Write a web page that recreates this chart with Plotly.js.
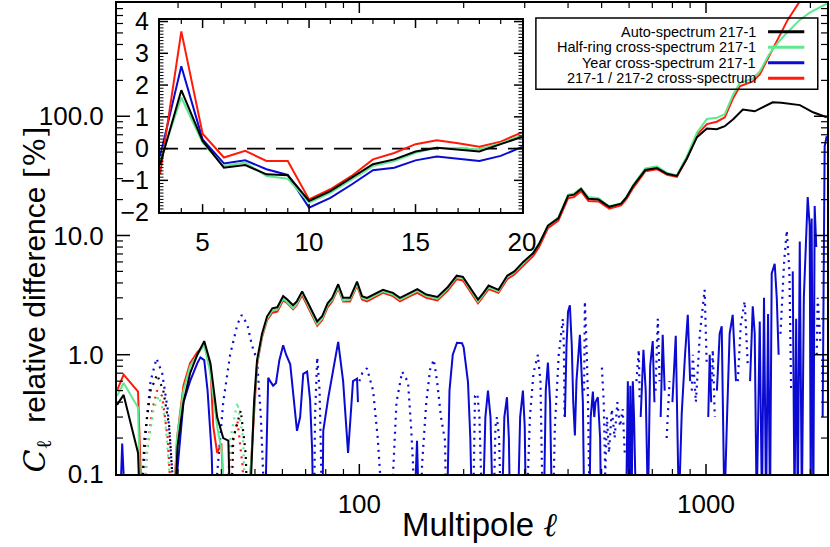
<!DOCTYPE html>
<html>
<head>
<meta charset="utf-8">
<script src="https://cdn.plot.ly/plotly-3.0.1.min.js"></script>
<style>
  body { margin: 0; background: #fff; }
  #chart { width: 830px; height: 547px; }
</style>
</head>
<body>
<div id="chart"></div>
<script>
/*===== Data =====*/
// main panel: signed relative difference [%], negative parts drawn dotted
const autoEll = [20, 20.9, 23.0, 23.3, 23.5, 24.0, 25.0, 26.1, 27.2, 28.3, 29.0, 29.3, 29.9, 31.1, 32.5, 34.1, 35.7, 37.2, 38.9, 40.5, 41.9, 42.4, 42.7, 43.3, 45.5, 47.0, 47.6, 48.3, 49.7, 50.7, 52.4, 54.2, 56.1, 58, 60.3, 62, 64.4, 66, 68.4, 71.2, 73, 75.6, 78.1, 81, 83.5, 86.9, 89.8, 94, 98.5, 101.8, 105.2, 110, 117, 125, 131, 140, 147, 156, 168, 180, 191, 199, 210, 220, 228, 236, 252, 267, 280, 297, 317, 330, 350, 375, 400, 416, 436, 458, 490, 526, 569, 590, 616, 668, 722, 772, 824, 880, 942, 1006, 1074, 1133, 1200, 1277, 1382, 1470, 1557, 1650, 1744, 1866, 2036, 2177, 2230];
const autoVal = [0.38, 0.46, 0.15, 0.05, -0.05, -0.2, -0.5, -0.68, -0.5, -0.25, -0.08, 0.05, 0.17, 0.4, 0.7, 1.0, 1.3, 0.85, 0.3, 0.2, 0.19, 0.05, -0.05, -0.2, -0.34, -0.15, -0.05, 0.05, 0.4, 0.9, 1.5, 2.1, 2.45, 2.5, 3.1, 2.9, 2.6, 2.8, 3.4, 2.7, 2.3, 1.9, 2.1, 2.7, 3.0, 3.9, 3.0, 3.0, 4.1, 3.1, 3.0, 3.2, 3.5, 3.3, 3.0, 3.3, 3.55, 3.2, 3.05, 3.7, 4.6, 4.5, 3.6, 2.9, 3.3, 3.8, 3.5, 4.6, 5.0, 6.0, 7.1, 8.5, 12.1, 13.9, 21.5, 22, 24.6, 20.3, 20, 17.4, 18.5, 21, 26, 35.4, 36.8, 32.9, 31.6, 44, 66.8, 79, 78, 82.5, 95, 114, 110, 120, 131, 130, 128, 124, 108, 100, 98];

const halfEll = [20, 20.9, 23.0, 23.4, 23.7, 24.4, 25.5, 26.4, 27.5, 28.5, 28.9, 29.2, 29.8, 31.1, 32.5, 34.1, 35.7, 37.2, 38.9, 40.2, 40.8, 41.2, 42.5, 44.5, 46.2, 47.0, 48.0, 49.7, 50.7, 52.4, 54.2, 56.1, 58, 60.3, 62, 64.4, 66, 68.4, 71.2, 73, 75.6, 78.1, 81, 83.5, 86.9, 89.8, 94, 98.5, 101.8, 105.2, 110, 117, 125, 131, 140, 147, 156, 168, 180, 191, 199, 210, 220, 228, 236, 252, 267, 280, 297, 317, 330, 350, 375, 400, 416, 436, 458, 490, 526, 569, 590, 616, 668, 722, 772, 824, 880, 942, 1006, 1074, 1133, 1195, 1251, 1364, 1429, 1520, 1610, 1710, 1864, 1991, 2229];
const halfVal = [0.45, 0.58, 0.36, 0.05, -0.05, -0.15, -0.35, -0.45, -0.3, -0.1, -0.05, 0.05, 0.2, 0.5, 0.8, 1.0, 1.2, 0.7, 0.25, 0.15, 0.05, -0.05, -0.2, -0.4, -0.2, -0.05, 0.05, 0.38, 0.85, 1.45, 2.0, 2.35, 2.4, 2.95, 2.75, 2.45, 2.65, 3.3, 2.6, 2.2, 1.8, 2.0, 2.6, 2.9, 3.7, 2.85, 2.9, 3.9, 3.0, 2.9, 3.1, 3.4, 3.2, 2.9, 3.2, 3.45, 3.1, 2.95, 3.6, 4.5, 4.4, 3.5, 2.8, 3.2, 3.7, 3.4, 4.5, 4.9, 5.9, 7.1, 8.5, 12.1, 14.2, 22, 22.5, 25, 21, 20.5, 17.6, 18.6, 21, 26.5, 36.5, 38, 33.5, 32, 46, 73, 95, 97, 104, 150, 190, 207, 237, 330, 413, 500, 643, 740, 880];

const yearEll = [20.0, 20.4, 20.7, 21.0, 21.3, 23.4, 23.8, 24.4, 25.0, 26.0, 27.0, 28.0, 28.9, 29.3, 29.6, 29.8, 31.1, 32.5, 34.1, 34.8, 35.7, 36.5, 37.5, 37.9, 38.5, 38.9, 40.5, 42.4, 44.5, 45.8, 47.5, 49.0, 50.7, 52, 52.8, 53.2, 53.5, 54.0, 54.6, 55.3, 56.4, 57.5, 58.8, 60.3, 61.5, 63.2, 65, 66.1, 67.5, 68.9, 70.7, 72.1, 73.1, 73.6, 74.1, 74.5, 75.6, 76.8, 77.5, 78.0, 78.3, 78.7, 81.3, 84.0, 86.9, 89.8, 92.8, 95.9, 98.5, 99.1, 100.0, 102, 105.2, 109.6, 113, 114.8, 115.5, 120, 125.1, 128, 132.9, 136, 138.2, 141, 142.9, 143.5, 144.2, 146.7, 148.5, 150.5, 151.7, 156, 160, 164, 167.6, 172, 176.7, 178, 179.1, 182, 186, 191.3, 197.8, 200, 205.8, 209, 211.3, 213, 215.6, 219, 222, 226, 227.3, 231, 235, 239, 242.5, 244, 247, 249.4, 253, 256, 258, 262, 266.6, 270, 272, 274, 277, 284, 286.7, 291, 296.4, 300, 302.3, 304, 310.5, 318, 327.4, 333, 338, 340.7, 345, 349.9, 355, 359.3, 362, 366.5, 376, 386.5, 389, 391, 391.7, 396, 400, 404.9, 410, 414, 418.6, 423, 432.7, 437, 441.4, 444, 445, 447.3, 451, 456, 460, 462.4, 465, 471.7, 476, 480, 487.6, 495, 498, 500.8, 507, 512, 518, 525, 535, 545, 555, 565, 575, 583, 590, 595, 600, 605, 610, 615, 620, 625, 630, 640, 644, 648, 660, 670, 680, 690, 702, 710, 715, 726, 735, 740, 750, 760, 770, 785, 800, 818, 835, 851, 870, 886, 900, 910, 916, 935, 960, 991, 1005, 1015, 1025, 1035, 1040, 1046, 1060, 1075, 1095, 1110, 1130, 1150, 1170, 1194, 1220, 1235, 1260, 1293, 1320, 1340, 1364, 1382, 1400, 1429, 1450, 1470, 1490, 1510, 1530, 1547, 1578, 1600, 1620, 1640, 1680, 1710, 1740, 1760, 1779, 1800, 1820, 1840, 1864, 1890, 1915, 1940, 1965, 1991, 2005, 2017, 2040, 2058, 2080, 2086, 2100, 2140, 2170, 2199, 2229];
const yearVal = [0.03, 0.05, 0.18, 0.05, 0.03, -0.05, -0.1, -0.3, -0.6, -0.93, -0.7, -0.35, -0.1, -0.05, 0.05, 0.1, 0.4, 0.6, 0.85, 0.95, 0.9, 0.5, 0.15, 0.05, -0.05, -0.1, -0.4, -1.0, -1.8, -2.15, -1.8, -1.2, -0.9, -0.3, -0.1, -0.05, 0.05, 0.2, 0.64, 0.6, 0.55, 0.58, 0.9, 1.2, 1.0, 0.83, 0.4, 0.23, 0.3, 0.69, 0.72, 0.42, 0.16, 0.05, -0.05, -0.3, -0.95, -0.5, -0.15, -0.05, 0.05, 0.23, 0.43, 0.76, 1.28, 0.6, 0.15, 0.6, 0.63, 0.4, -0.6, -0.7, -0.77, -0.5, -0.2, -0.1, -0.05, -0.04, -0.1, -0.4, -0.72, -0.65, -0.59, -0.25, -0.12, -0.05, 0.05, 0.19, 0.05, -0.05, -0.12, -0.4, -0.75, -0.91, -0.6, -0.3, -0.19, -0.05, 0.05, 0.5, 1.0, 1.26, 1.25, 1.15, 0.59, 0.2, 0.05, -0.05, -0.45, -0.47, -0.3, -0.05, 0.05, 0.3, 0.5, 0.3, 0.05, -0.05, -0.25, -0.3, -0.2, -0.05, 0.05, 0.3, 0.44, 0.2, 0.05, -0.05, -0.08, -0.05, 0.05, 0.3, 0.5, 0.25, 0.05, -0.05, -0.3, -0.7, -1.0, -0.6, -0.05, 0.05, 0.5, 0.86, 0.4, 0.05, -0.05, -0.25, -1.0, -2.0, -1.2, -0.3, 0.3, 1.2, 2.3, 2.6, 1.2, 0.4, 0.21, 0.6, 1.47, 0.8, 0.4, 0.1, -0.5, -2.8, -1.5, -0.5, -0.1, 0.1, 0.3, 0.49, 0.3, 0.4, 0.44, 0.2, 0.05, -0.78, -0.4, -0.1, -0.3, -0.15, -0.35, -0.2, -0.4, -0.25, -0.35, -0.15, 0.1, 0.6, 0.05, 0.55, 0.05, 0.6, 0.3, 0.1, -0.6, -1.1, -0.4, 0.3, 1.1, 0.5, 0.05, 0.8, 1.3, 0.4, -0.5, -2.0, -0.6, 0.3, 1.47, 0.5, -0.2, -0.6, 0.4, 1.44, 0.05, 0.32, 1.0, 2.16, 0.6, -0.5, -1.0, -0.4, -1.5, -3.5, -0.8, 0.3, 1.0, 0.4, -0.6, -1.1, -0.3, 0.5, 1.5, 1.73, 0.05, 0.3, 1.5, 2.16, 0.6, -0.6, -1.8, -2.8, -0.8, 0.6, 2.55, 1.5, 0.05, 1.9, 0.05, 3.0, 0.05, 2.2, 0.05, 4.8, 5.8, 3.0, 1.0, -1.5, -6, -11, -5, -0.5, 5.0, 0.05, 2.0, 0.05, 8.9, 0.05, 3.0, 10, 21, 12, 0.05, 13.9, 0.05, 17.7, 8.0, -1.0, -3.0, -1.2, 0.3, 56, 68];

const crossEll = [20, 20.9, 23.0, 23.6, 23.9, 24.4, 25.3, 26.1, 27.0, 28.0, 28.8, 29.1, 29.8, 31.1, 32.5, 34.1, 35.7, 37.2, 37.9, 38.9, 40.0, 40.8, 41.2, 42.5, 44.5, 46.0, 46.8, 47.8, 49.7, 50.7, 52.4, 54.2, 56.1, 58, 60.3, 62, 64.4, 66, 68.4, 71.2, 73, 75.6, 78.1, 81, 83.5, 86.9, 89.8, 94, 98.5, 101.8, 105.2, 110, 117, 125, 131, 140, 147, 156, 168, 180, 191, 199, 210, 220, 228, 236, 252, 267, 280, 297, 317, 330, 350, 375, 400, 416, 436, 458, 490, 526, 569, 590, 616, 668, 722, 772, 824, 880, 942, 1006, 1074, 1133, 1195, 1251, 1364, 1429, 1557, 1640, 1720, 1864, 1991, 2229];
const crossVal = [0.5, 0.68, 0.49, 0.05, -0.05, -0.15, -0.35, -0.5, -0.45, -0.2, -0.05, 0.05, 0.2, 0.55, 0.85, 1.05, 1.2, 0.8, 0.25, 0.15, 0.18, 0.05, -0.05, -0.15, -0.28, -0.12, -0.05, 0.05, 0.37, 0.82, 1.4, 1.95, 2.25, 2.3, 2.85, 2.7, 2.4, 2.6, 3.15, 2.5, 2.15, 1.75, 1.95, 2.5, 2.8, 3.6, 2.8, 2.8, 3.8, 2.9, 2.8, 3.0, 3.3, 3.1, 2.8, 3.1, 3.3, 3.0, 2.85, 3.45, 4.3, 4.2, 3.35, 2.7, 3.1, 3.55, 3.3, 4.3, 4.7, 5.6, 6.7, 8.0, 11.5, 13.3, 20.5, 21, 23.5, 19.5, 19.3, 16.8, 17.9, 20.3, 25, 34.5, 36, 32.3, 31, 44, 70, 86, 90, 98, 140, 178, 196, 224, 360, 480, 643, 920, 1200, 1700];

// inset: low multipoles
const insetEll = [3, 4, 5, 6, 7, 8, 9, 10, 11, 12, 13, 14, 15, 16, 17, 18, 19, 20];
const insetAuto = [-0.5, 1.84, 0.24, -0.6, -0.52, -0.81, -0.84, -1.65, -1.34, -0.92, -0.49, -0.34, -0.09, 0.03, -0.02, -0.09, 0.14, 0.37];
const insetHalf = [-0.4, 1.61, 0.19, -0.55, -0.44, -0.86, -0.95, -1.7, -1.39, -0.97, -0.55, -0.39, -0.13, 0.03, 0.01, -0.02, 0.16, 0.42];
const insetYear = [-0.25, 2.59, 0.29, -0.47, -0.37, -0.65, -0.83, -1.86, -1.55, -1.13, -0.68, -0.6, -0.37, -0.25, -0.32, -0.39, -0.23, 0.05];
const insetCross = [-0.81, 3.69, 0.47, -0.28, -0.07, -0.39, -0.39, -1.6, -1.28, -0.86, -0.34, -0.14, 0.14, 0.26, 0.17, 0.06, 0.22, 0.51];
const zeroEll = [3, 20];
const zeroVal = [0, 0];

// tick positions
const majorX = [100, 1000];
const minorX = [30, 40, 50, 60, 70, 80, 90, 200, 300, 400, 500, 600, 700, 800, 900, 2000];
const majorY = [1, 10, 100];
const minorY = [0.2, 0.3, 0.4, 0.5, 0.6, 0.7, 0.8, 0.9, 2, 3, 4, 5, 6, 7, 8, 9,
                20, 30, 40, 50, 60, 70, 80, 90, 200, 300, 400, 500, 600, 700, 800];
const majorInsetX = [5, 10, 15];
const minorInsetX = [4, 6, 7, 8, 9, 11, 12, 13, 14, 16, 17, 18, 19];
const majorInsetY = [-1, 0, 1, 2, 3, 4];
const minorInsetY = [];
for (var m = -19; m <= 40; m += 1) { if (m % 10 !== 0) minorInsetY.push(m / 10); }

const legendNames = ['Auto-spectrum 217-1', 'Half-ring cross-spectrum 217-1', 'Year cross-spectrum 217-1', '217-1 / 217-2 cross-spectrum'];
const colAuto = '#000000', colHalf = '#5fe88f', colYear = '#0a0ad2', colCross = '#ff1a0a';
const legendColors = [colAuto, colHalf, colYear, colCross];

/*===== Traces =====*/
function signedTraces(ell, val, color) {
  var pos = val.map(v => (v > 0 ? v : null));
  var neg = val.map(v => (v < 0 ? -v : null));
  return [
    {x: ell, y: neg, mode: 'lines', connectgaps: false, showlegend: false, hoverinfo: 'skip',
     line: {color: color, width: 2.2, dash: '2px,5px'}},
    {x: ell, y: pos, mode: 'lines', connectgaps: false, showlegend: false, hoverinfo: 'skip',
     line: {color: color, width: 2}}
  ];
}
function insetTrace(y, color) {
  return {x: insetEll, y: y, xaxis: 'x2', yaxis: 'y2', mode: 'lines', showlegend: false,
          hoverinfo: 'skip', line: {color: color, width: 2}};
}

const data = [].concat(
  signedTraces(yearEll, yearVal, colYear),
  signedTraces(crossEll, crossVal, colCross),
  signedTraces(halfEll, halfVal, colHalf),
  signedTraces(autoEll, autoVal, colAuto),
  [{x: zeroEll, y: zeroVal, xaxis: 'x2', yaxis: 'y2', mode: 'lines', showlegend: false,
    hoverinfo: 'skip', line: {color: '#000', width: 1.6, dash: '18px,11px'}}],
  [insetTrace(insetYear, colYear), insetTrace(insetCross, colCross),
   insetTrace(insetHalf, colHalf), insetTrace(insetAuto, colAuto)]
);

/*===== Layout =====*/
const font = 'Liberation Sans, Arial, sans-serif';
const shapes = [];
const annotations = [];

// IDL-style inward ticks on all four sides, drawn as short lines
// w, h: plot size in px of that panel
function tickMarks(xa, ya, xvals, yvals, len, w, h, width) {
  xvals.forEach(function (v) {
    shapes.push({type: 'line', xref: xa, yref: ya + ' domain', x0: v, x1: v, y0: 0, y1: len / h,
                 line: {color: '#000', width: width}});
    shapes.push({type: 'line', xref: xa, yref: ya + ' domain', x0: v, x1: v, y0: 1, y1: 1 - len / h,
                 line: {color: '#000', width: width}});
  });
  yvals.forEach(function (v) {
    shapes.push({type: 'line', xref: xa + ' domain', yref: ya, x0: 0, x1: len / w, y0: v, y1: v,
                 line: {color: '#000', width: width}});
    shapes.push({type: 'line', xref: xa + ' domain', yref: ya, x0: 1, x1: 1 - len / w, y0: v, y1: v,
                 line: {color: '#000', width: width}});
  });
}
tickMarks('x', 'y', majorX, [], 10, 710, 471, 1.5);
tickMarks('x', 'y', [], majorY, 13, 710, 471, 1.5);
tickMarks('x', 'y', minorX, [], 5, 710, 471, 1.2);
tickMarks('x', 'y', [], minorY, 6, 710, 471, 1.2);
tickMarks('x2', 'y2', majorInsetX, majorInsetY, 8, 362, 192, 1.5);
tickMarks('x2', 'y2', minorInsetX, [], 4, 362, 192, 1.2);
tickMarks('x2', 'y2', [], minorInsetY, 3.5, 362, 192, 1);

// hand-made legend (symbols sit right of the text)
shapes.push({type: 'rect', xref: 'paper', yref: 'paper', x0: 0.590, x1: 0.987, y0: 0.817, y1: 0.968,
             line: {color: '#000', width: 1.5}, fillcolor: 'rgba(0,0,0,0)'});
const rowY = [0.939, 0.906, 0.873, 0.840];
for (var i = 0; i < legendNames.length; i++) {
  annotations.push({xref: 'paper', yref: 'paper', x: 0.903, y: rowY[i], xanchor: 'right', yanchor: 'middle',
                    text: legendNames[i], showarrow: false, font: {family: font, size: 14.5, color: '#000'}});
  shapes.push({type: 'line', xref: 'paper', yref: 'paper', x0: 0.917, x1: 0.968, y0: rowY[i], y1: rowY[i],
               line: {color: legendColors[i], width: 3}});
}

// axis titles
annotations.push({xref: 'paper', yref: 'paper', x: -0.113, y: 0.37, xanchor: 'center', yanchor: 'middle',
  textangle: -90, showarrow: false, font: {family: font, size: 30, color: '#000'},
  text: "<span style='font-family:DejaVu Serif'><i>C</i><sub>ℓ</sub></span>  relative difference <span style='font-family:DejaVu Serif'>[%]</span>"});
annotations.push({xref: 'paper', yref: 'paper', x: 0.51, y: -0.108, xanchor: 'center', yanchor: 'middle',
  showarrow: false, font: {family: font, size: 33, color: '#000'},
  text: "Multipole <span style='font-family:DejaVu Serif'><i>ℓ</i></span>"});

const axisStyle = {ticks: '', showline: true, linecolor: '#000', linewidth: 2,
                   mirror: true, showgrid: false, zeroline: false};

const layout = {
  width: 830,
  height: 547,
  margin: {l: 117, r: 3, t: 3, b: 73},
  paper_bgcolor: '#fff',
  plot_bgcolor: 'rgba(0,0,0,0)',
  font: {family: font, color: '#000'},
  showlegend: false,
  xaxis: Object.assign({}, axisStyle, {
    type: 'log', range: [Math.log10(20), 3.349], domain: [0, 1],
    tick0: 0, dtick: 1, exponentformat: 'none', tickformat: 'd', ticklabelstandoff: 6,
    tickfont: {family: font, size: 26, color: '#000'}
  }),
  yaxis: Object.assign({}, axisStyle, {
    type: 'log', range: [-1.0005, 2.95], domain: [0, 1],
    tick0: 0, dtick: 1, tickformat: '.1f', ticklabelstandoff: 6,
    tickfont: {family: font, size: 26, color: '#000'}
  }),
  xaxis2: Object.assign({}, axisStyle, {
    anchor: 'y2', domain: [0.0606, 0.5704], range: [3, 20],
    tick0: 0, dtick: 5, ticklabelstandoff: 6,
    tickfont: {family: font, size: 26, color: '#000'}
  }),
  yaxis2: Object.assign({}, axisStyle, {
    anchor: 'x2', domain: [0.556, 0.964], range: [-2, 4.05],
    tick0: 0, dtick: 1, ticklabelstandoff: 4,
    tickfont: {family: font, size: 25, color: '#000'}
  }),
  shapes: shapes,
  annotations: annotations
};

Plotly.newPlot('chart', data, layout, {staticPlot: true});
</script>
</body>
</html>
